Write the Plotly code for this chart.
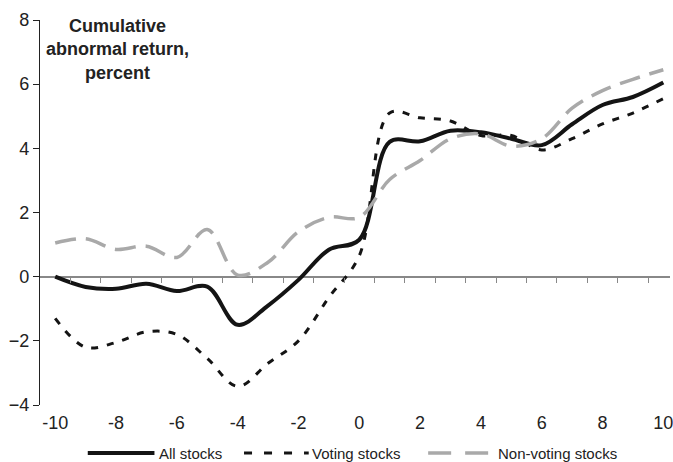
import plotly.graph_objects as go

days = list(range(-10, 11))
all_stocks = [0.0, -0.32, -0.38, -0.22, -0.45, -0.31, -1.5, -0.9, -0.1, 0.84, 1.15,
              4.2, 4.22, 4.55, 4.5, 4.3, 4.1, 4.75, 5.35, 5.6, 6.05]
voting = [-1.3, -2.2, -2.05, -1.72, -1.8, -2.55, -3.42, -2.7, -2.0, -0.65, 0.65,
          5.1, 4.95, 4.85, 4.4, 4.4, 3.95, 4.3, 4.76, 5.1, 5.55]
nonvoting = [1.05, 1.18, 0.85, 0.95, 0.6, 1.47, 0.05, 0.45, 1.4, 1.85, 1.85,
             3.03, 3.62, 4.3, 4.45, 4.07, 4.3, 5.25, 5.8, 6.15, 6.45]

x_ticks = list(range(-10, 11, 2))
y_ticks = list(range(-4, 9, 2))
minor_ticks = [d + 0.5 for d in range(-10, 10)]
series_names = ["All stocks", "Voting stocks", "Non-voting stocks"]
title_text = "Cumulative<br>abnormal return,<br>percent"

BLACK = "#141414"
GRAY = "#a9a9a9"
FONT = "Liberation Sans, Arial, sans-serif"

W, H = 673, 462
ML, MR, MT, MB = 40, 0, 20, 57
PW, PH = W - ML - MR, H - MT - MB


def px_x(p):
    return (p - ML) / PW


def px_y(p):
    return (H - MB - p) / PH


fig = go.Figure()
fig.add_trace(go.Scatter(x=days, y=all_stocks, mode="lines", name=series_names[0],
                         line=dict(color=BLACK, width=4, shape="spline"), showlegend=False))
fig.add_trace(go.Scatter(x=days, y=voting, mode="lines", name=series_names[1],
                         line=dict(color=BLACK, width=3, dash="7px,9px", shape="spline"),
                         showlegend=False))
fig.add_trace(go.Scatter(x=days, y=nonvoting, mode="lines", name=series_names[2],
                         xaxis="x2", yaxis="y",
                         line=dict(color=GRAY, width=3.5, dash="21px,10px", shape="spline"),
                         showlegend=False))

xr = [-10.5, 10.22]
fig.update_layout(
    width=W, height=H,
    margin=dict(l=ML, r=MR, t=MT, b=MB, pad=0),
    paper_bgcolor="white", plot_bgcolor="white",
    font=dict(family=FONT, color="#222222", size=18),
    xaxis=dict(range=xr, tickvals=x_ticks, ticktext=[str(v) for v in x_ticks],
               showline=False, showgrid=False, zeroline=False, ticks="",
               ticklabelstandoff=5, ticklabeloverflow="allow", tickfont=dict(size=18)),
    xaxis2=dict(range=xr, overlaying="x", anchor="free", position=1/3, side="bottom",
                tickvals=minor_ticks, ticks="outside", ticklen=5, tickcolor="#888888",
                tickwidth=1.2, showticklabels=False, showline=False, showgrid=False,
                zeroline=False),
    yaxis=dict(range=[-4, 8], tickvals=y_ticks, showline=True, linecolor="#222222",
               linewidth=1.2, ticks="outside", ticklen=6, tickcolor="#222222",
               showgrid=False, zeroline=True, zerolinecolor="#888888", zerolinewidth=1.5,
               tickfont=dict(size=18)),
    showlegend=False,
)

# title annotation
fig.add_annotation(x=px_x(118), y=px_y(14), xref="paper", yref="paper",
                   text="<b>" + title_text + "</b>", showarrow=False,
                   xanchor="center", yanchor="top", align="center",
                   font=dict(size=18, family=FONT, color="#222222"))

# manual legend
ly = px_y(453)
legend_items = [
    (series_names[0], 88, 155, 158, dict(color=BLACK, width=4)),
    (series_names[1], 245, 310, 311, dict(color=BLACK, width=3, dash="8px,12px")),
    (series_names[2], 430, 491, 498, dict(color=GRAY, width=3.5, dash="23px,14px")),
]
for name, x0, x1, tx, ln in legend_items:
    fig.add_shape(type="line", xref="paper", yref="paper", x0=px_x(x0), x1=px_x(x1),
                  y0=ly, y1=ly, line=ln)
    fig.add_annotation(x=px_x(tx), y=px_y(453), xref="paper", yref="paper", text=name,
                       showarrow=False, xanchor="left", yanchor="middle",
                       font=dict(size=15, family=FONT, color="#222222"))

fig.write_html("out.html", config={"displayModeBar": False},
               post_script="document.body.style.margin='0px';document.body.style.overflow='hidden';")
